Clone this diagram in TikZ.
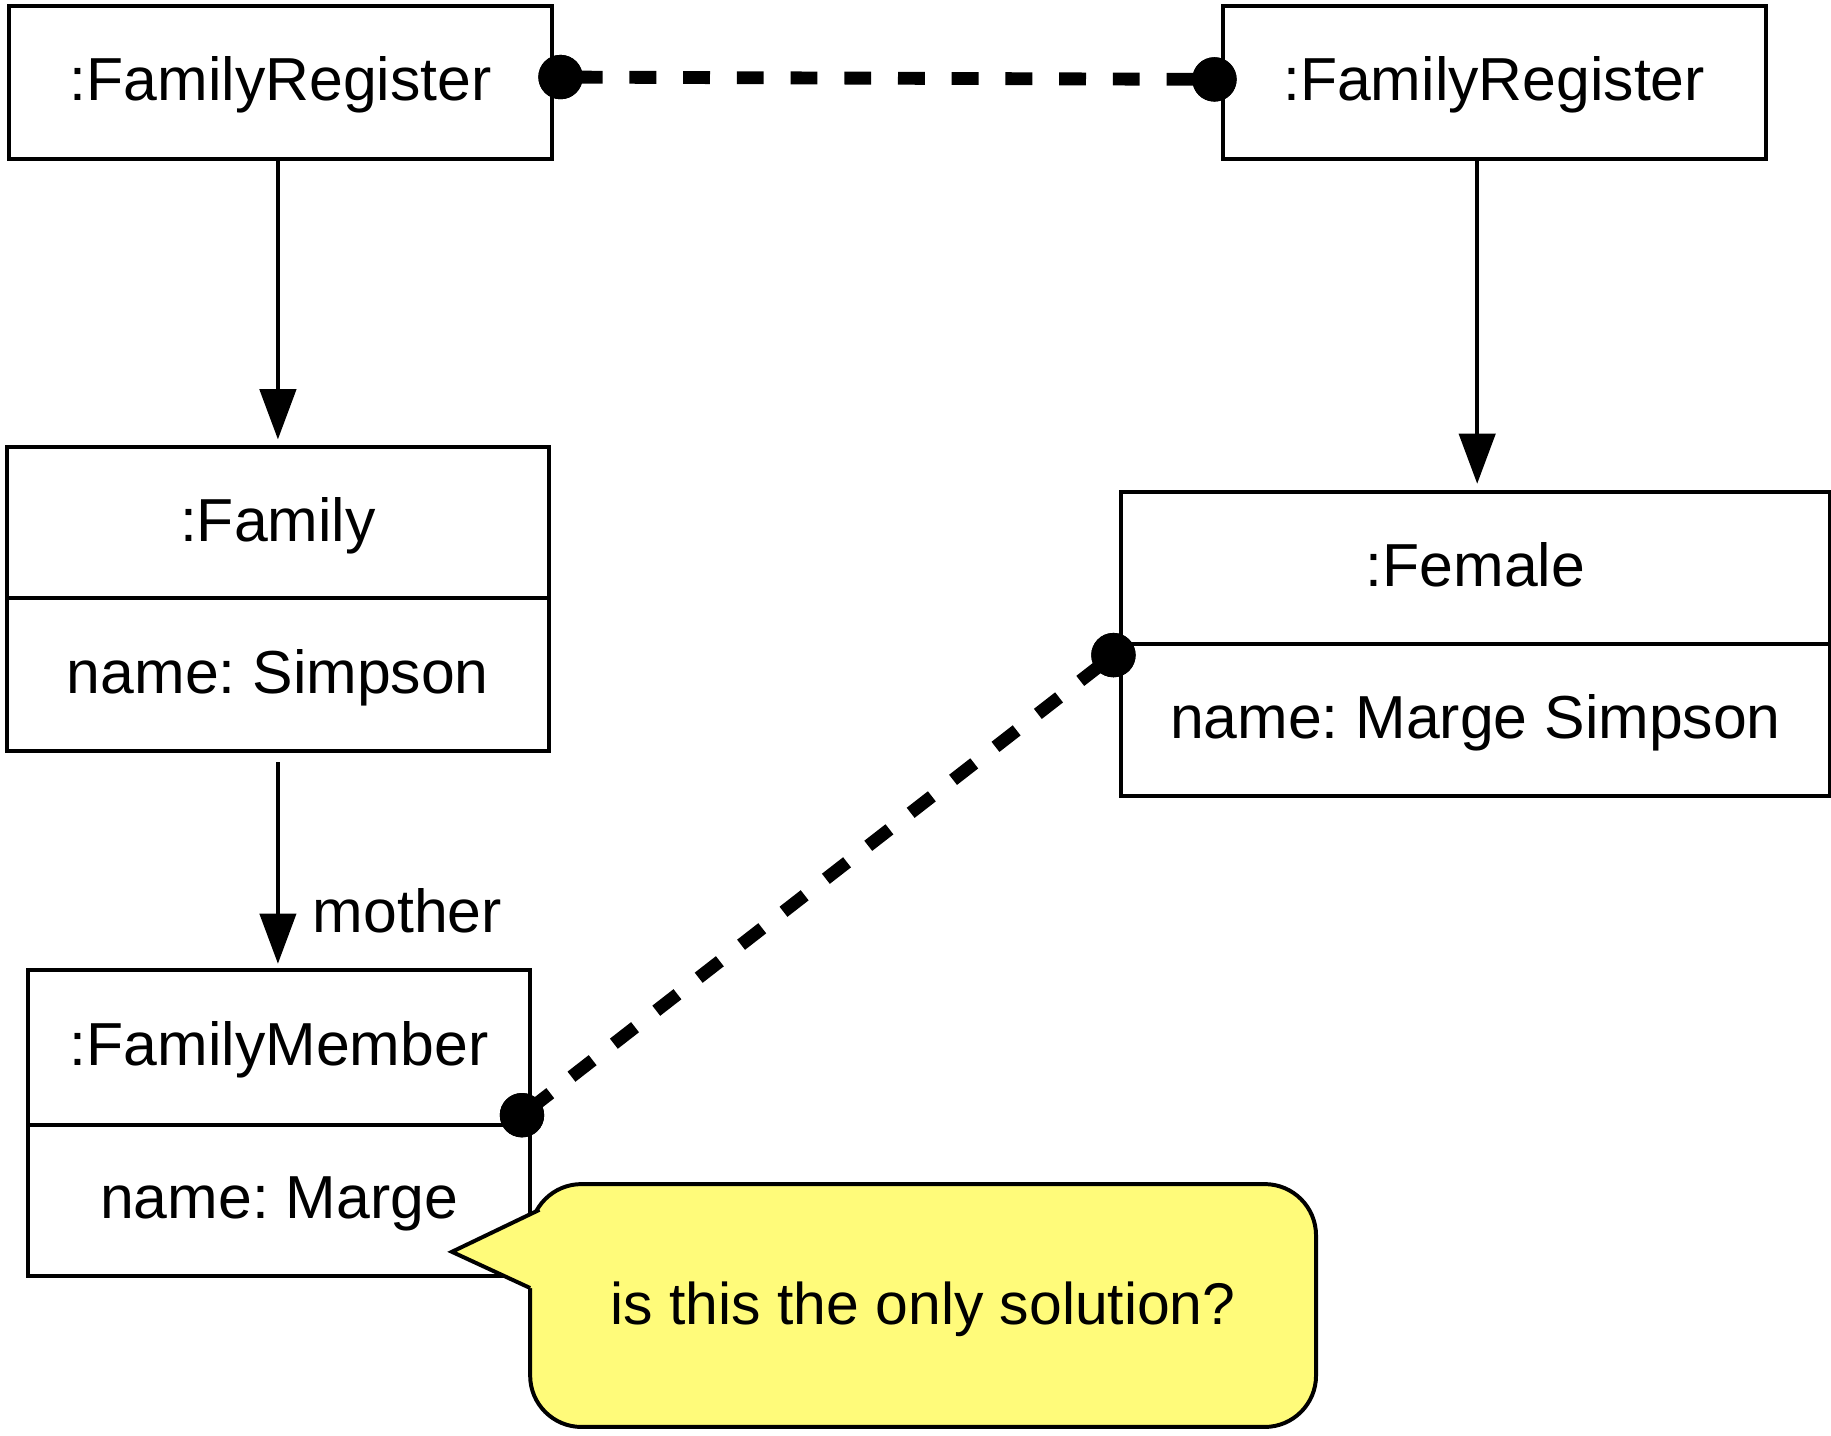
\documentclass[tikz,border=0pt]{standalone}
\usepackage{fontspec}
\setmainfont{Liberation Sans}
\usetikzlibrary{arrows.meta,calc}
\definecolor{noteyellow}{RGB}{255,251,122}
\frenchspacing
\begin{document}
\begin{tikzpicture}[x=0.5pt,y=-0.5pt,
  txt/.style={font=\fontsize{26}{31}\selectfont\frenchspacing, text height=19.5pt, text depth=3.64pt, inner sep=0pt},
  comp/.style={txt, draw, line width=1.7pt, rectangle},
  assoc/.style={line width=1.7pt, -{Triangle[length=21.5pt,width=15.5pt]}},
  link/.style={line width=5.5pt, dash pattern=on 11.5pt off 11.5pt},
  dot/.style={circle, fill=black, inner sep=0pt, minimum size=19pt},
  note/.style={txt, font=\fontsize{25.2}{30}\selectfont, draw, line width=1.7pt, fill=noteyellow, rounded corners=22pt}
]
\useasboundingbox (0,0) rectangle (1568,1229);

% top registers
\node[comp, minimum width=232.5pt, minimum height=65.5pt] (fr1) at (240.5,70.5) {:FamilyRegister};
\node[comp, minimum width=232.5pt, minimum height=65.5pt] (fr2) at (1279.5,70.5) {:FamilyRegister};

% Family
\node[comp, minimum width=232pt, minimum height=65pt] (fam1) at (238,447.5) {:Family};
\node[comp, minimum width=232pt, minimum height=65.25pt] (fam2) at (238,577.75) {name: Simpson};

% FamilyMember
\node[comp, minimum width=215pt, minimum height=66pt] (mem1) at (239,897) {:FamilyMember};
\node[comp, minimum width=215pt, minimum height=65pt] (mem2) at (239,1028) {name: Marge};

% Female
\node[comp, minimum width=303.5pt, minimum height=65.25pt] (fem1) at (1263.5,486.25) {:Female};
\node[comp, minimum width=303.5pt, minimum height=65.25pt] (fem2) at (1263.5,616.75) {name: Marge Simpson};

% associations
\draw[assoc, shorten >=2.25pt] (fam1.north |- fr1.south) -- (fam1.north);
\draw[assoc, shorten >=2.5pt] ($(fem1.north |- fr2.south)+(1.5,0)$) -- ($(fem1.north)+(1.5,0)$);
\draw[assoc, shorten <=4pt, shorten >=2pt] (fam2.south) -- (fam2.south |- mem1.north);
\node[txt, anchor=west] (mother) at (267.5,783) {mother};

% dashed links
\node[dot] (dA) at (480,66) {};
\node[dot] (dB) at (1040,68) {};
\node[dot] (dC) at (953.5,561) {};
\node[dot] (dD) at (447,955) {};
\draw[link, dash phase=16.5pt] (dA.center) -- (dB.center);
\draw[link, dash phase=16.5pt] (dC.center) -- (dD.center);
\node[dot] at (dA) {};
\node[dot] at (dB) {};
\node[dot] at (dC) {};
\node[dot] at (dD) {};

% note
\node[note, minimum width=336.5pt, minimum height=104pt] (nt) at (790.5,1118) {is this the only solution?};
\coordinate (pa) at (462,1036);
\coordinate (pt) at (387,1072);
\coordinate (pb) at (454,1103);
\fill[noteyellow] (pa) -- (pt) -- (pb) -- (474,1103) -- (474,1036) -- cycle;
\draw[line width=1.7pt, line join=miter] (pa) -- (pt) -- (pb);
\end{tikzpicture}
\end{document}
